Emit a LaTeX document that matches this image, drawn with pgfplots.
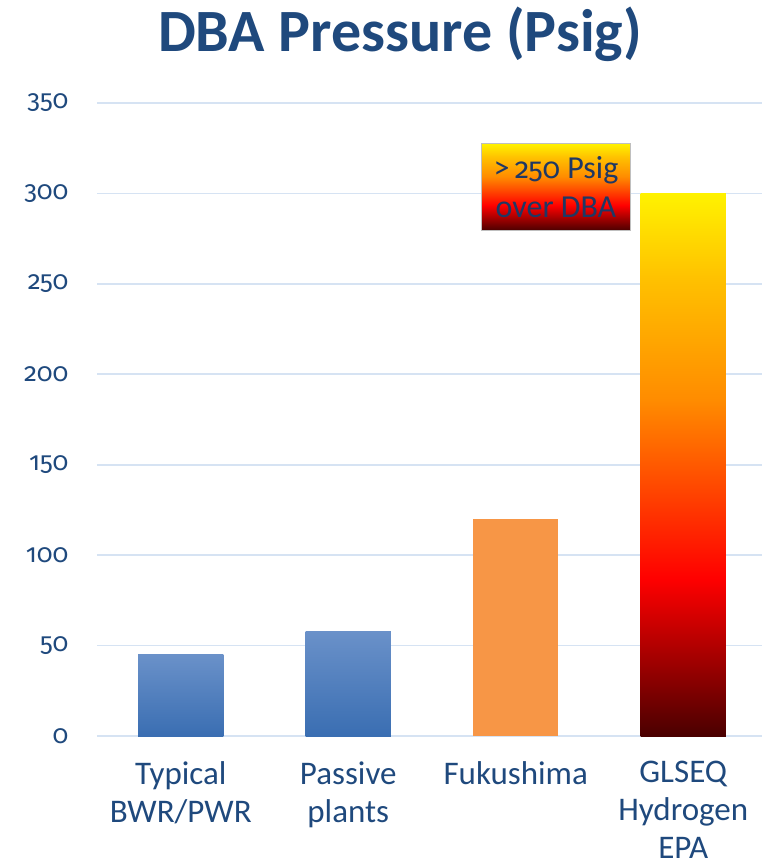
\documentclass[border=0pt]{standalone}
\usepackage{pgfplots}
\pgfplotsset{compat=1.18}
\usepackage{fontspec}
\setmainfont{Carlito}
\newfontfamily\tickfont{Fira Sans}[Numbers=OldStyle]

\definecolor{txtblue}{RGB}{31,73,125}
\definecolor{titleblue}{RGB}{31,73,125}
\definecolor{boxtxt}{RGB}{31,56,100}
\definecolor{gridblue}{RGB}{214,227,243}
\definecolor{bluetop}{RGB}{106,145,201}
\definecolor{bluebot}{RGB}{58,110,178}
\definecolor{orangebar}{RGB}{247,150,70}
\definecolor{fdark}{RGB}{74,0,0}
\definecolor{fred}{RGB}{255,0,0}
\definecolor{forange}{RGB}{255,140,0}
\definecolor{fgold}{RGB}{255,192,0}
\definecolor{fyellow}{RGB}{255,242,0}

% fire gradient: the middle 50bp band (25bp..75bp) spans the filled path
\pgfdeclareverticalshading{fire}{100bp}{%
  color(0bp)=(fdark); color(25bp)=(fdark); color(39.5bp)=(fred);
  color(56bp)=(forange); color(67bp)=(fgold); color(75bp)=(fyellow);
  color(100bp)=(fyellow)}

\begin{document}
\begin{tikzpicture}[x=1pt,y=1pt]
\useasboundingbox (-97,-132) rectangle (664,736);
\begin{axis}[
  at={(0,0)}, anchor=south west,
  scale only axis,
  width=670pt, height=633pt,
  xmin=-0.5, xmax=3.5,
  ymin=0, ymax=350,
  ytick={0,50,...,350},
  xtick={0,1,2,3},
  xticklabels={Typical\\BWR/PWR, Passive\\plants, Fukushima, GLSEQ\\Hydrogen\\EPA},
  axis line style={draw=none},
  major tick length=0pt,
  ymajorgrids,
  major grid style={color=gridblue, line width=1.6pt},
  /pgf/number format/assume math mode=true,
  yticklabel style={font=\fontsize{26}{30}\tickfont, text=txtblue, anchor=east, xshift=-25pt},
  xticklabel style={font=\fontsize{33}{38}\selectfont, text=txtblue, align=center,
    anchor=north, yshift=-22pt},
  clip=false,
]
\addplot[ybar, bar width=0.51, bar shift=0pt, draw=none,
  top color=bluetop, bottom color=bluebot] coordinates {(0,45)};
\addplot[ybar, bar width=0.51, bar shift=0pt, draw=none,
  top color=bluetop, bottom color=bluebot] coordinates {(1,58)};
\addplot[ybar, bar width=0.51, bar shift=0pt, draw=none,
  fill=orangebar] coordinates {(2,120)};
\addplot[ybar, bar width=0.51, bar shift=0pt, draw=none,
  shading=fire] coordinates {(3,300)};

\node[shading=fire, draw=gray!50, line width=1.8pt,
  minimum width=149pt, minimum height=87pt, inner sep=0pt,
  align=center, text=boxtxt, font=\fontsize{32}{39}\selectfont]
  at (axis cs:2.24,303.5) {>\,{\fontsize{29}{39}\tickfont 250} Psig\\over DBA};
\end{axis}
\node[anchor=base, text=titleblue, font=\fontsize{60}{66}\selectfont\bfseries]
  at (303,684) {DBA Pressure (Psig)};
\end{tikzpicture}
\end{document}
